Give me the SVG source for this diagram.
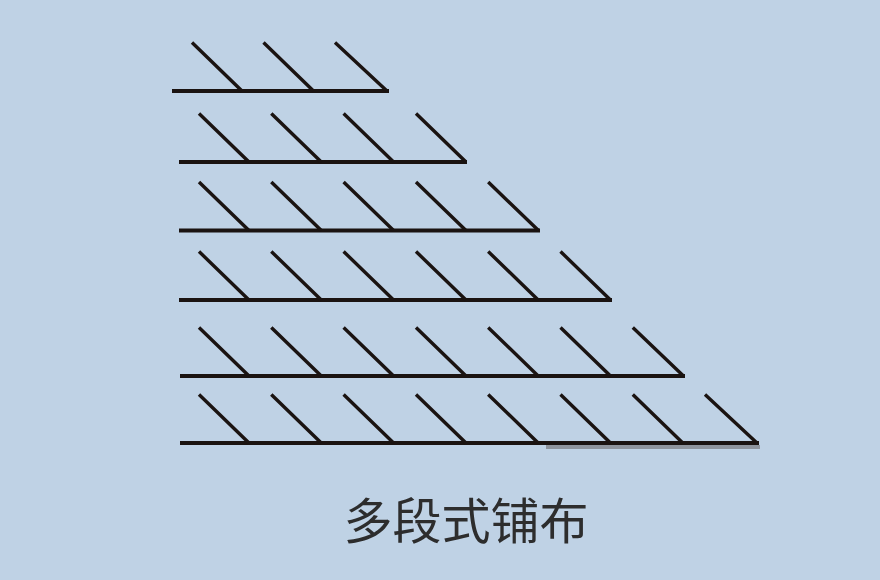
<svg xmlns="http://www.w3.org/2000/svg" width="880" height="580" viewBox="0 0 880 580">
<style>
.base{stroke:#1a1311;stroke-width:4;fill:none}
.tick{stroke:#1a1311;stroke-width:3.4;fill:none;stroke-linecap:butt}
.label{font-family:"Noto Sans CJK SC","Noto Sans",sans-serif;font-size:49px;fill:#2d2d2d}
</style>
<rect x="0" y="0" width="880" height="580" fill="#bfd2e5"/>
<g id="row1">
<line class="base" x1="172" y1="91" x2="389" y2="91"/>
<path class="tick" d="M192,42.5 L242,91 M263.5,42.5 L313.5,91 M335,42.5 L387,91"/>
</g>
<g id="row2">
<line class="base" x1="179" y1="162" x2="467" y2="162"/>
<path class="tick" d="M199,113.5 L249,162 M271.3,113.5 L321.3,162 M343.6,113.5 L393.6,162 M416,113.5 L466,162"/>
</g>
<g id="row3">
<line class="base" x1="179" y1="230.5" x2="540" y2="230.5"/>
<path class="tick" d="M199,182 L249,230.5 M271.3,182 L321.3,230.5 M343.6,182 L393.6,230.5 M416,182 L466,230.5 M488.2,182 L538.5,230.5"/>
</g>
<g id="row4">
<line class="base" x1="179" y1="300" x2="612" y2="300"/>
<path class="tick" d="M199,251.5 L249,300 M271.3,251.5 L321.3,300 M343.6,251.5 L393.6,300 M416,251.5 L466,300 M488.2,251.5 L538.2,300 M560.5,251.5 L610.5,300"/>
</g>
<g id="row5">
<line class="base" x1="180" y1="376" x2="685" y2="376"/>
<path class="tick" d="M199,327.5 L249,376 M271.3,327.5 L321.3,376 M343.6,327.5 L393.6,376 M416,327.5 L466,376 M488.2,327.5 L538.2,376 M560.5,327.5 L610.5,376 M632.8,327.5 L683.5,376"/>
</g>
<g id="row6">
<rect x="546" y="445" width="214" height="4" fill="#8e949d"/>
<line class="base" x1="180" y1="443" x2="759" y2="443"/>
<path class="tick" d="M199,394.5 L249,443 M271.3,394.5 L321.3,443 M343.6,394.5 L393.6,443 M416,394.5 L466,443 M488.2,394.5 L538.2,443 M560.5,394.5 L610.5,443 M632.8,394.5 L682.8,443 M705,394.5 L757,443"/>
</g>
<text class="label" x="466" y="539" text-anchor="middle">多段式铺布</text>
</svg>
